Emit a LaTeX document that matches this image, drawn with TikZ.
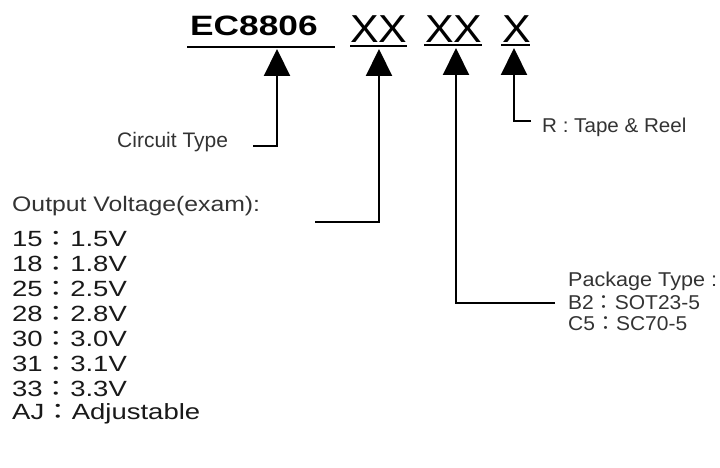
\documentclass[tikz,border=0pt]{standalone}
\usepackage{fontspec}
\setmainfont{Liberation Sans}
\newfontfamily\cjkfont{Noto Sans CJK TC}
\usetikzlibrary{arrows.meta}
\newcommand\fwc{{\cjkfont ：}}
\newcommand\hstretch[2]{\scalebox{#1}[1]{#2}}
\begin{document}
\begin{tikzpicture}[x=1pt,y=-1pt,
  lbl/.style={inner sep=0pt, anchor=west, text=black!80, font=\fontsize{20}{20}\selectfont},
  vlist/.style={inner sep=0pt, anchor=west, text=black!90, font=\fontsize{22}{22}\selectfont},
  xx/.style={inner sep=0pt, anchor=base west, text=black, font=\fontsize{39}{39}\selectfont},
  leader/.style={line width=2.2pt, line join=miter, -{Triangle[length=27pt,width=26pt]}},
  uline/.style={line width=2.8pt},
]
\useasboundingbox (0,0) rectangle (720,468);
% part number
\node[inner sep=0pt, anchor=base west, font=\fontsize{28}{28}\selectfont\bfseries] (ec) at (190,36) {\hstretch{1.26}{EC8806}};
\node[xx] (xa) at (350,43) {\hstretch{1.1}{XX}};
\node[xx] (xb) at (425,43) {\hstretch{1.1}{XX}};
\node[xx] (xc) at (502,43) {\hstretch{1.1}{X}};
\draw[uline] (187,47) -- (335,47);
\draw[uline] (350,46) -- (407,46);
\draw[uline] (424,45) -- (482,45);
\draw[uline] (501,45) -- (530,45);
% labels
\node[lbl, font=\fontsize{21}{21}\selectfont] (ct) at (117,142) {Circuit Type};
\node[lbl] (tr) at (542,127) {\hstretch{1.03}{R : Tape \& Reel}};
\node[lbl, font=\fontsize{21}{21}\selectfont] (ov) at (12,206) {\hstretch{1.18}{Output Voltage(exam):}};
\foreach \n/\yy/\t in {v1/239/15\fwc 1.5V, v2/264/18\fwc 1.8V, v3/289/25\fwc 2.5V, v4/314/28\fwc 2.8V,
  v5/339/30\fwc 3.0V, v6/364/31\fwc 3.1V, v7/389/33\fwc 3.3V, v8/414/AJ\fwc Adjustable}
  \node[vlist] (\n) at (12,\yy) {\hstretch{1.25}{\t}};
\node[lbl] (pt) at (568,281) {\hstretch{1.08}{Package Type :}};
\node[lbl] (pb) at (568,303) {\hstretch{1.05}{B2\fwc SOT23-5}};
\node[lbl] (pc) at (568,324) {\hstretch{1.05}{C5\fwc SC70-5}};
% leaders
\coordinate (tA) at (277,49);
\coordinate (sA) at (253,146);
\coordinate (tB) at (379,49);
\coordinate (sB) at (315,222);
\coordinate (tC) at (456,48);
\coordinate (sC) at (555,303);
\coordinate (tD) at (514,48);
\coordinate (sD) at (531,121);
\draw[leader] (sA) -| (tA);
\draw[leader] (sB) -| (tB);
\draw[leader] (sC) -| (tC);
\draw[leader] (sD) -| (tD);
\end{tikzpicture}
\end{document}
